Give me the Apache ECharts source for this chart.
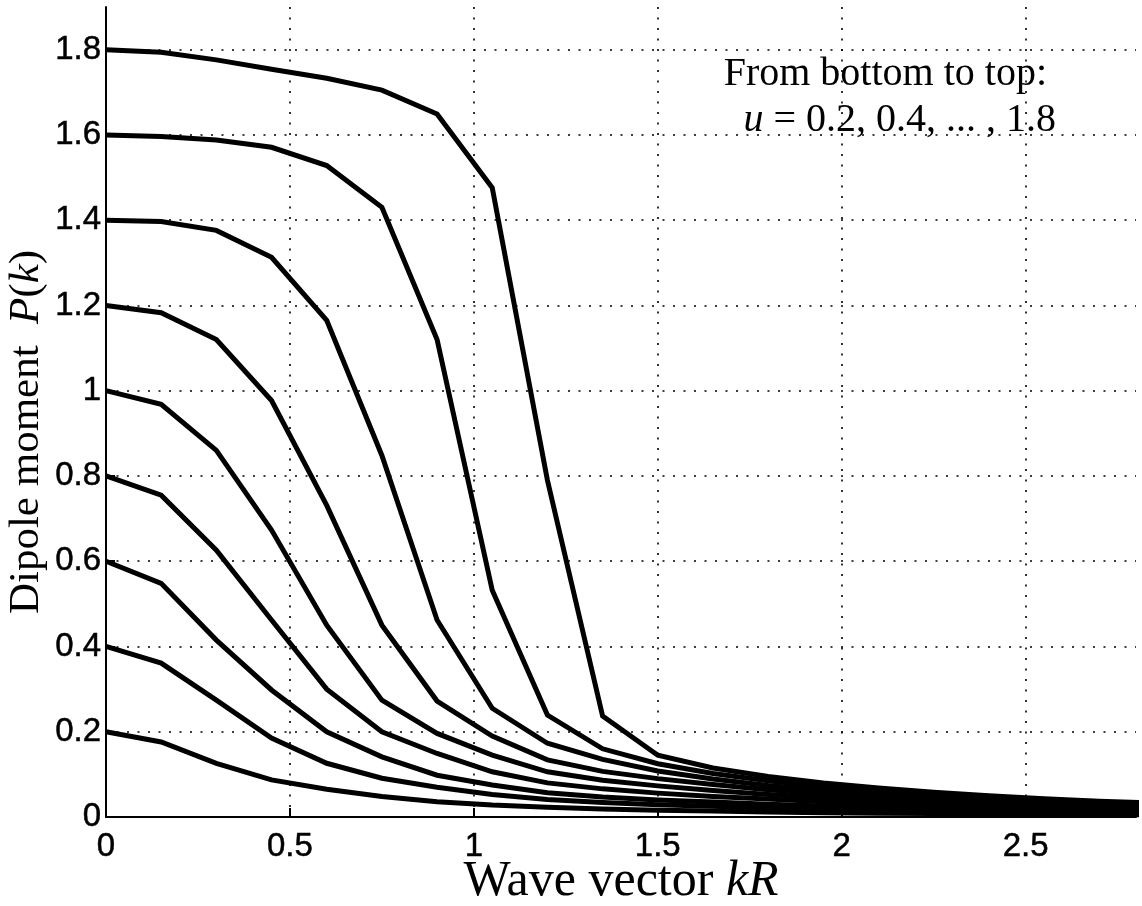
<!DOCTYPE html>
<html>
<head>
<meta charset="utf-8">
<script src="https://cdn.jsdelivr.net/npm/echarts@6/dist/echarts.min.js"></script>
<style>
html,body{margin:0;padding:0;background:#fff;}
#chart{width:1142px;height:906px;}
</style>
</head>
<body>
<div id="chart"></div>
<script>
// Wave vector kR sample points
const kR = [0, 0.15, 0.3, 0.45, 0.6, 0.75, 0.9, 1.05, 1.2, 1.35, 1.5, 1.65, 1.8, 1.95, 2.1, 2.25, 2.4, 2.55, 2.7, 2.85];
// Dipole moment P(k) for u = 0.2 ... 1.8
const u02 = [0.200, 0.176, 0.126, 0.087, 0.065, 0.048, 0.036, 0.028, 0.023, 0.019, 0.016, 0.014, 0.012, 0.010, 0.009, 0.008, 0.007, 0.006, 0.005, 0.005];
const u04 = [0.400, 0.361, 0.274, 0.185, 0.126, 0.091, 0.070, 0.053, 0.041, 0.034, 0.029, 0.025, 0.021, 0.018, 0.016, 0.014, 0.012, 0.011, 0.009, 0.009];
const u06 = [0.600, 0.548, 0.415, 0.298, 0.200, 0.141, 0.098, 0.075, 0.057, 0.047, 0.040, 0.035, 0.030, 0.026, 0.023, 0.020, 0.017, 0.015, 0.013, 0.012];
const u08 = [0.800, 0.755, 0.626, 0.462, 0.300, 0.200, 0.149, 0.106, 0.080, 0.066, 0.056, 0.048, 0.042, 0.036, 0.031, 0.027, 0.023, 0.020, 0.018, 0.016];
const u10 = [1.000, 0.968, 0.860, 0.673, 0.450, 0.274, 0.196, 0.145, 0.106, 0.086, 0.073, 0.062, 0.053, 0.045, 0.039, 0.034, 0.029, 0.025, 0.022, 0.020];
const u12 = [1.200, 1.183, 1.120, 0.977, 0.731, 0.450, 0.272, 0.190, 0.134, 0.107, 0.090, 0.076, 0.064, 0.054, 0.046, 0.040, 0.035, 0.030, 0.026, 0.024];
const u14 = [1.400, 1.397, 1.376, 1.313, 1.165, 0.848, 0.462, 0.255, 0.173, 0.135, 0.108, 0.089, 0.074, 0.063, 0.053, 0.046, 0.040, 0.035, 0.030, 0.027];
const u16 = [1.600, 1.596, 1.588, 1.571, 1.528, 1.430, 1.120, 0.532, 0.239, 0.160, 0.125, 0.102, 0.085, 0.071, 0.060, 0.052, 0.045, 0.039, 0.034, 0.031];
const u18 = [1.800, 1.794, 1.776, 1.754, 1.733, 1.705, 1.649, 1.476, 0.790, 0.237, 0.145, 0.115, 0.095, 0.080, 0.068, 0.058, 0.050, 0.043, 0.037, 0.033];
const seriesNames = ['u=0.2','u=0.4','u=0.6','u=0.8','u=1.0','u=1.2','u=1.4','u=1.6','u=1.8'];
const seriesData = [u02, u04, u06, u08, u10, u12, u14, u16, u18];

const annotLine1 = 'From bottom to top:';
const annotLine2 = '{i|u} = 0.2, 0.4, ... , 1.8';
const xTitle = 'Wave vector {i|kR}';
const yTitle = 'Dipole moment  {i|P}({i|k})';

const chart = echarts.init(document.getElementById('chart'), null, {renderer: 'canvas'});
const serif = '"Liberation Serif", "Times New Roman", serif';
const sans = '"Liberation Sans", Arial, Helvetica, sans-serif';
const dotted = {color: '#000', width: 1.6, type: [2, 8.5]};
const tickFont = {color: '#000', fontFamily: sans, fontSize: 33, textBorderColor: '#000', textBorderWidth: 0.5};

chart.setOption({
  animation: false,
  backgroundColor: '#fff',
  grid: {left: 106, right: 6, top: 7, bottom: 89, containLabel: false},
  xAxis: {
    type: 'value', min: 0, max: 2.8, interval: 0.5,
    axisLine: {show: true, onZero: false, lineStyle: {color: '#000', width: 2}},
    axisTick: {show: true, inside: true, length: 9, lineStyle: {color: '#000', width: 2}},
    axisLabel: Object.assign({margin: 13, showMaxLabel: false,
      formatter: v => String(+v.toFixed(2))}, tickFont),
    splitLine: {show: true, showMinLine: false, showMaxLine: false, lineStyle: dotted}
  },
  yAxis: {
    type: 'value', min: 0, max: 1.9, interval: 0.2,
    axisLine: {show: true, onZero: false, lineStyle: {color: '#000', width: 2}},
    axisTick: {show: true, inside: true, length: 9, lineStyle: {color: '#000', width: 2}},
    axisLabel: Object.assign({margin: 5, showMaxLabel: false,
      formatter: v => String(+v.toFixed(2))}, tickFont),
    splitLine: {show: true, showMinLine: false, showMaxLine: false, lineStyle: dotted}
  },
  series: seriesData.map((d, i) => ({
    name: seriesNames[i], type: 'line', showSymbol: false, symbol: 'none',
    clip: true, z: 3,
    lineStyle: {color: '#000', width: 5, join: 'miter'},
    data: kR.map((x, j) => [x, d[j]])
  })),
  graphic: [
    {type: 'text', x: 621, y: 882, z: 10,
      style: {text: xTitle, font: '50px ' + serif, fill: '#000', align: 'center', verticalAlign: 'middle',
        rich: {i: {fontFamily: serif, fontSize: 50, fontStyle: 'italic', fill: '#000'}}}},
    {type: 'text', x: 27, y: 432, rotation: Math.PI / 2, z: 10,
      style: {text: yTitle, font: '43px ' + serif, fill: '#000', align: 'center', verticalAlign: 'middle',
        rich: {i: {fontFamily: serif, fontSize: 43, fontStyle: 'italic', fill: '#000'}}}},
    {type: 'text', x: 1047, y: 54, z: 10,
      style: {text: annotLine1, font: '40px ' + serif, fill: '#000', align: 'right', verticalAlign: 'top'}},
    {type: 'text', x: 1056, y: 100, z: 10,
      style: {text: annotLine2, font: '40px ' + serif, fill: '#000', align: 'right', verticalAlign: 'top',
        rich: {i: {fontFamily: serif, fontSize: 40, fontStyle: 'italic', fill: '#000'}}}}
  ]
});
</script>
</body>
</html>
